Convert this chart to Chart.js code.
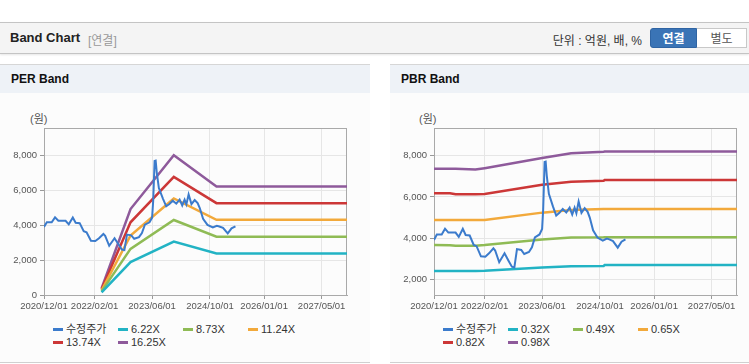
<!DOCTYPE html>
<html lang="ko">
<head>
<meta charset="utf-8">
<title>Band Chart</title>
<script src="https://cdn.jsdelivr.net/npm/chart.js@4.4.1/dist/chart.umd.min.js"></script>
<style>
body { margin:0; width:749px; height:364px; position:relative; overflow:hidden; background:#fff;
  font-family:"Liberation Sans", Arial, "Noto Sans CJK KR", sans-serif; }
.head { position:absolute; left:0; top:22px; width:749px; height:30px; background:#f4f4f4;
  border-top:1px solid #c4c4c4; border-bottom:1px solid #c4c4c4; box-shadow:0 1px 2px rgba(0,0,0,0.10); }
.head .ttl { position:absolute; left:10px; top:7px; font-size:13px; font-weight:bold; color:#222; }
.head .sub { position:absolute; left:88px; top:8px; font-size:12px; color:#999; }
.head .unit { position:absolute; right:107px; top:8px; font-size:12px; color:#333; }
.btn { position:absolute; top:5px; height:20px; line-height:20px; font-size:12px; text-align:center; box-sizing:border-box; }
.btn.on { left:650px; width:47px; background:#3a74b6; color:#fff; font-weight:bold; border-radius:3px 0 0 3px; border:1px solid #2f64a3; }
.btn.off { left:697px; width:50px; background:#fff; color:#555; border:1px solid #c8c8c8; border-left:none; }
.panel { position:absolute; top:64px; height:297px; background:#fcfcfc; border-top:1px solid #d6d6d6; border-bottom:1px solid #d0d0d0; }
.ptitle { height:28px; line-height:28px; background:#eef2f7; padding-left:11px; font-weight:bold; font-size:12px; color:#111; }
.unitlbl { position:absolute; top:110px; font-size:11px; color:#555; }
canvas { position:absolute; top:93px; }
.legend { position:absolute; top:323px; display:grid; grid-template-columns:repeat(4, 65px); font-size:11px; color:#333; line-height:13px; }
.legend i { display:inline-block; width:10px; height:3px; vertical-align:middle; margin-right:3px; position:relative; top:-1px; }
</style>
</head>
<body>
<div class="head">
  <span class="ttl">Band Chart</span><span class="sub">[연결]</span>
  <span class="unit">단위 : 억원, 배, %</span>
  <span class="btn on">연결</span><span class="btn off">별도</span>
</div>
<div class="panel" style="left:0;width:370px"><div class="ptitle">PER Band</div></div>
<div class="panel" style="left:390px;width:359px"><div class="ptitle">PBR Band</div></div>
<div class="unitlbl" style="left:30px">(원)</div>
<div class="unitlbl" style="left:419px">(원)</div>
<canvas id="perChart" width="370" height="225" style="left:0"></canvas>
<canvas id="pbrChart" width="359" height="225" style="left:390px"></canvas>
<div class="legend" id="perLegend" style="left:53px"></div>
<div class="legend" id="pbrLegend" style="left:443px"></div>
<script>
// x축 눈금
var tickDates = ['2020/12/01', '2022/02/01', '2023/06/01', '2024/10/01', '2026/01/01', '2027/05/01'];
var xStart = '2020/12/01';
var xEnd = '2027/12/01';

// 수정주가
var priceDates = ['2020-12-01','2020-12-25','2021-02-04','2021-03-04','2021-04-01','2021-06-01','2021-06-28','2021-08-01','2021-08-25','2021-09-28',
	'2021-11-01','2021-11-25','2022-01-01','2022-02-07','2022-03-10','2022-04-16','2022-05-01','2022-06-04','2022-07-19','2022-08-25',
	'2022-09-19','2022-10-10','2022-11-01','2022-12-07','2023-01-01','2023-02-10','2023-03-07','2023-04-01','2023-05-10','2023-06-01',
	'2023-06-10','2023-06-22','2023-07-01','2023-07-10','2023-07-28','2023-09-01','2023-09-28','2023-10-25','2023-11-22','2023-12-22',
	'2024-01-19','2024-02-10','2024-03-01','2024-03-16','2024-04-04','2024-04-28','2024-05-25','2024-06-19','2024-07-07','2024-08-04',
	'2024-09-10','2024-10-25','2024-11-28','2024-12-19','2025-01-19','2025-02-28','2025-04-01','2025-05-04'];
var prices = [3910,4180,4180,4460,4270,4270,4060,4450,4155,4130,
	3670,3610,3120,3100,3265,3510,3400,2830,3265,2870,
	2615,2580,3470,3430,3230,3330,3560,4040,4180,4450,
	5400,7700,7720,7050,6150,5530,5100,5230,5420,5250,
	5480,5150,5480,5210,5780,5230,5460,5280,5000,4380,
	4030,3880,3980,3940,3860,3540,3830,3945];

// PER 밴드
var perDates = ['2022-04-01','2022-12-01','2023-12-01','2024-11-25','2027-12-01'];
var per622 = [150, 1890, 3070, 2390, 2390];
var per873 = [210, 2650, 4310, 3350, 3350];
var per1124 = [270, 3420, 5550, 4320, 4320];
var per1374 = [330, 4180, 6790, 5280, 5280];
var per1625 = [390, 4940, 8030, 6240, 6240];

// PBR 밴드
var pbrDates = ['2020-12-01','2021-04-15','2021-06-01','2021-11-15','2022-02-01','2023-06-01','2024-02-01','2024-11-01','2024-11-10','2027-12-01'];
var pbr032 = [2410,2410,2410,2410,2420,2570,2640,2650,2696,2696];
var pbr049 = [3670,3660,3635,3635,3665,3940,4030,4040,4045,4045];
var pbr065 = [4885,4885,4885,4885,4885,5240,5370,5420,5420,5420];
var pbr082 = [6185,6185,6136,6136,6140,6590,6740,6790,6830,6830];
var pbr098 = [7370,7370,7370,7330,7400,7890,8120,8200,8210,8210];

var colors = ['#3b7bcc', '#22b3c4', '#8fbb55', '#f2a93b', '#cc3737', '#8e5a9b'];

function toDay(s) {
	var p = s.replace(/\//g, '-').split('-');
	var b = xStart.split('/');
	return (Date.UTC(+p[0], p[1] - 1, +p[2]) - Date.UTC(+b[0], b[1] - 1, +b[2])) / 86400000;
}
function pts(dates, vals) {
	return dates.map(function (d, i) { return { x: toDay(d), y: vals[i] }; });
}
function line(label, color, dates, vals, w) {
	return { label: label, data: pts(dates, vals), borderColor: color, backgroundColor: color,
		borderWidth: w, pointRadius: 0, fill: false, tension: 0 };
}

var tickDays = tickDates.map(toDay);

var plotBox = {
	id: 'plotBox',
	beforeDatasetsDraw: function (chart) {
		var a = chart.chartArea, c = chart.ctx;
		c.save();
		c.strokeStyle = '#a9a9a9';
		c.lineWidth = 1;
		c.strokeRect(Math.round(a.left) + 0.5, Math.round(a.top) + 0.5, Math.round(a.right - a.left) - 1, Math.round(a.bottom - a.top));
		c.restore();
	}
};

function makeChart(id, datasets, yMin, yMax, yTicks, padRight) {
	return new Chart(document.getElementById(id).getContext('2d'), {
		type: 'line',
		data: { datasets: datasets },
		options: {
			responsive: false,
			animation: false,
			layout: { padding: { top: 35, right: padRight, bottom: 0, left: 0 } },
			plugins: { legend: { display: false }, tooltip: { enabled: false } },
			scales: {
				x: {
					type: 'linear', min: 0, max: toDay(xEnd),
					afterBuildTicks: function (s) { s.ticks = tickDays.map(function (v) { return { value: v }; }); },
					afterFit: function (s) { s.height = 23; },
					ticks: {
						autoSkip: false, maxRotation: 0, padding: 2, color: '#555',
						font: { size: 9.5, family: '"Liberation Sans", Arial, sans-serif' },
						callback: function (v) { return tickDates[tickDays.indexOf(v)]; }
					},
					grid: { color: '#e6e6e6', tickColor: '#999', tickLength: 4 },
					border: { color: '#a9a9a9' }
				},
				y: {
					min: yMin, max: yMax,
					afterBuildTicks: function (s) { s.ticks = yTicks.map(function (v) { return { value: v }; }); },
					afterFit: function (s) { s.width = 44; },
					ticks: {
						padding: 3, color: '#555',
						font: { size: 9.5, family: '"Liberation Sans", Arial, sans-serif' },
						callback: function (v) { return v.toLocaleString('en-US'); }
					},
					grid: { color: '#e6e6e6', tickColor: '#999', tickLength: 4 },
					border: { color: '#a9a9a9' }
				}
			}
		},
		plugins: [plotBox]
	});
}

function buildLegend(id, datasets) {
	var box = document.getElementById(id);
	datasets.forEach(function (ds) {
		var item = document.createElement('div');
		item.innerHTML = '<i style="background:' + ds.borderColor + '"></i>' + ds.label;
		box.appendChild(item);
	});
}

var perSets = [
	line('수정주가', colors[0], priceDates, prices, 2),
	line('6.22X', colors[1], perDates, per622, 2.5),
	line('8.73X', colors[2], perDates, per873, 2.5),
	line('11.24X', colors[3], perDates, per1124, 2.5),
	line('13.74X', colors[4], perDates, per1374, 2.5),
	line('16.25X', colors[5], perDates, per1625, 2.5)
];
var pbrSets = [
	line('수정주가', colors[0], priceDates, prices, 2),
	line('0.32X', colors[1], pbrDates, pbr032, 2.5),
	line('0.49X', colors[2], pbrDates, pbr049, 2.5),
	line('0.65X', colors[3], pbrDates, pbr065, 2.5),
	line('0.82X', colors[4], pbrDates, pbr082, 2.5),
	line('0.98X', colors[5], pbrDates, pbr098, 2.5)
];

makeChart('perChart', perSets, 0, 9600, [0, 2000, 4000, 6000, 8000], 23);
makeChart('pbrChart', pbrSets, 1240, 9350, [2000, 4000, 6000, 8000], 12);
buildLegend('perLegend', perSets);
buildLegend('pbrLegend', pbrSets);
</script>
</body>
</html>
